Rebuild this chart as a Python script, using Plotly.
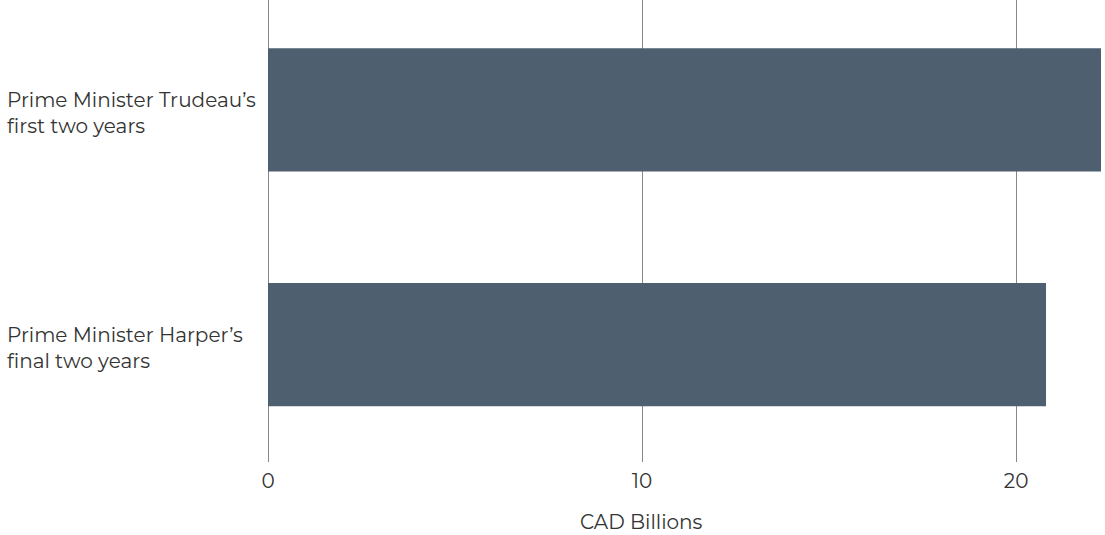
import plotly.graph_objects as go

# Spending totals (CAD billions) per period
categories = ["Prime Minister Harper’s<br>final two years",
              "Prime Minister Trudeau’s<br>first two years"]
values = [20.8, 22.3]
x_ticks = [0, 10, 20]
x_title = "CAD Billions"

W, H = 1105, 535
ML, MR, MT, MB = 268, 4, 0, 73
PW, PH = W - ML - MR, H - MT - MB
FONT = "Montserrat, Lato, 'Open Sans', sans-serif"
TXT = "#333333"

fig = go.Figure(go.Bar(
    x=values, y=categories, orientation="h",
    marker=dict(color="#4e6070", line=dict(width=0)),
    width=0.526, hoverinfo="skip",
))

# left-aligned category labels
for cat in categories:
    fig.add_annotation(
        x=-(ML - 5) / PW, xref="paper", y=cat, yref="y", yshift=-3,
        text=cat, showarrow=False, xanchor="left", align="left",
        font=dict(family=FONT, size=20, color=TXT),
    )

# axis title, centred under the 0–20 span
fig.add_annotation(
    x=(641 - ML) / PW, xref="paper", y=-(522 - PH) / PH, yref="paper",
    text=x_title, showarrow=False, xanchor="center", yanchor="middle",
    font=dict(family=FONT, size=20, color=TXT),
)

fig.update_layout(
    width=W, height=H,
    margin=dict(l=ML, r=MR, t=MT, b=MB),
    paper_bgcolor="white", plot_bgcolor="white",
    showlegend=False,
    xaxis=dict(
        range=[0, 22.27], tickvals=x_ticks,
        showgrid=True, gridcolor="#86868c", gridwidth=1.3,
        zeroline=True, zerolinecolor="#86868c", zerolinewidth=1.3,
        showline=False, ticks="outside", ticklen=1,
        tickcolor="rgba(0,0,0,0)",
        tickfont=dict(family=FONT, size=20, color=TXT),
    ),
    yaxis=dict(
        range=[-0.5, 1.468], showticklabels=False,
        showgrid=False, zeroline=False, showline=False,
    ),
)

fig.write_html("out.html")
